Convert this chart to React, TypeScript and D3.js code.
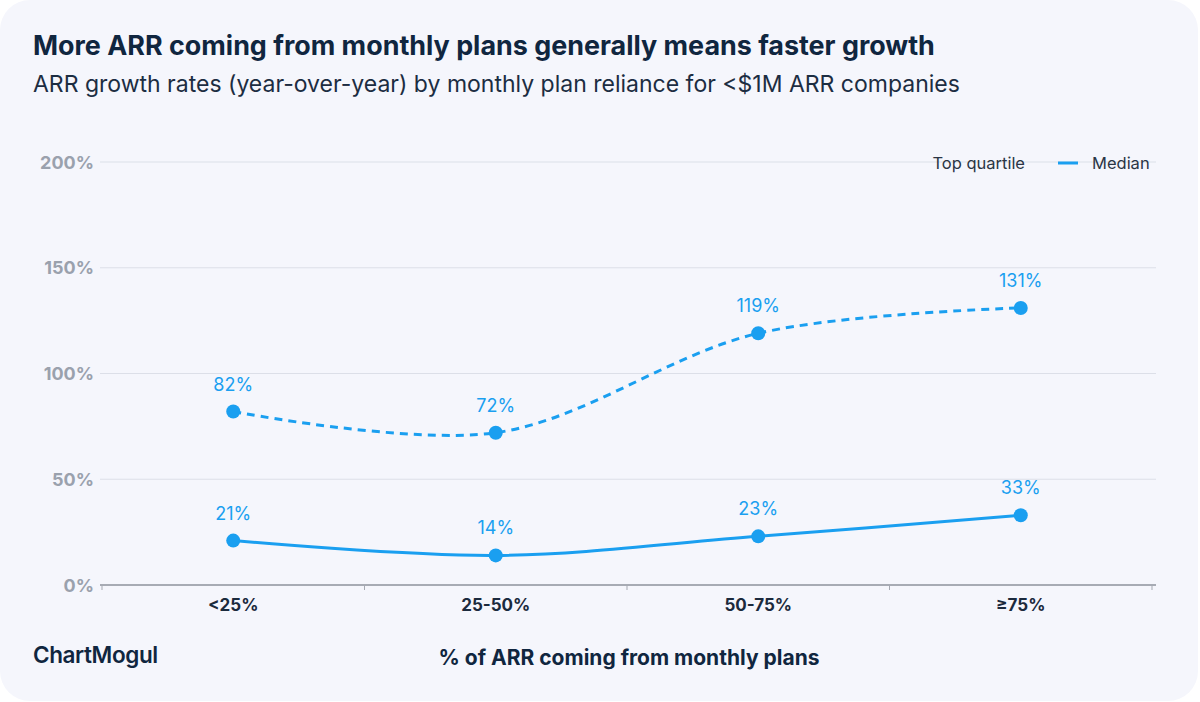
import { useEffect, useRef } from 'react'
import * as d3 from 'd3'

const categories = ['<25%', '25-50%', '50-75%', '≥75%']
const topQuartile = [82, 72, 119, 131]
const median = [21, 14, 23, 33]
const yTicks = [0, 50, 100, 150, 200]

const BLUE = '#1a9ff0'

export default function App() {
  const svgRef = useRef<SVGSVGElement>(null)

  useEffect(() => {
    if (!svgRef.current) return
    const W = 1200
    const H = 702
    const svg = d3.select(svgRef.current)
    svg.selectAll('*').remove()
    svg.attr('width', W).attr('height', H)

    const font = 'Inter, "Noto Sans", sans-serif'

    // card
    svg.append('rect').attr('width', W).attr('height', H).attr('fill', '#ffffff')
    svg.append('rect')
      .attr('x', 0).attr('y', 0)
      .attr('width', W - 2).attr('height', H - 1)
      .attr('rx', 30)
      .attr('fill', '#f5f6fc')

    svg.append('text')
      .attr('x', 33).attr('y', 55)
      .attr('font-family', font).attr('font-size', 26.9).attr('font-weight', 700)
      .attr('fill', '#10263f')
      .text('More ARR coming from monthly plans generally means faster growth')

    svg.append('text')
      .attr('x', 33).attr('y', 92)
      .attr('font-family', font).attr('font-size', 23).attr('font-weight', 400)
      .attr('fill', '#1c2d42')
      .text('ARR growth rates (year-over-year) by monthly plan reliance for <$1M ARR companies')

    const x = d3.scaleBand().domain(categories).range([102, 1152])
    const y = d3.scaleLinear().domain([0, 200]).range([585, 162])
    const cx = (c: string) => (x(c) ?? 0) + x.bandwidth() / 2

    // grid
    const grid = svg.append('g')
    grid.selectAll('line')
      .data(yTicks.filter(t => t > 0))
      .enter().append('line')
      .attr('x1', 100).attr('x2', 1156)
      .attr('y1', d => y(d)).attr('y2', d => y(d))
      .attr('stroke', '#dcdfe8').attr('stroke-width', 1.2)

    // y labels
    svg.append('g').selectAll('text')
      .data(yTicks)
      .enter().append('text')
      .attr('x', 94).attr('y', d => y(d) + 6.5)
      .attr('text-anchor', 'end')
      .attr('font-family', font).attr('font-size', 18).attr('font-weight', 700)
      .attr('fill', '#9aa1ad')
      .text(d => `${d}%`)

    // x axis line + ticks
    svg.append('line')
      .attr('x1', 100).attr('x2', 1156)
      .attr('y1', 585).attr('y2', 585)
      .attr('stroke', '#8d929c').attr('stroke-width', 1.6)
    const bounds = [...categories.map(c => x(c) ?? 0), 1152]
    svg.append('g').selectAll('line')
      .data(bounds)
      .enter().append('line')
      .attr('x1', d => d).attr('x2', d => d)
      .attr('y1', 585).attr('y2', 590)
      .attr('stroke', '#a5a9b2').attr('stroke-width', 1)

    svg.append('g').selectAll('text')
      .data(categories)
      .enter().append('text')
      .attr('x', d => cx(d)).attr('y', 611)
      .attr('text-anchor', 'middle')
      .attr('font-family', font).attr('font-size', 17).attr('font-weight', 700)
      .attr('fill', '#1b2a3d')
      .text(d => d)

    svg.append('text')
      .attr('x', 629).attr('y', 665)
      .attr('text-anchor', 'middle')
      .attr('font-family', font).attr('font-size', 21).attr('font-weight', 700)
      .attr('fill', '#10263f')
      .text('% of ARR coming from monthly plans')

    svg.append('text')
      .attr('x', 33).attr('y', 663)
      .attr('font-family', 'Inter, sans-serif').attr('font-size', 22.5).attr('font-weight', 600)
      .attr('fill', '#10263f')
      .attr('letter-spacing', -0.4)
      .text('ChartMogul')

    // series
    const line = d3.line<number>()
      .x((_d, i) => cx(categories[i]))
      .y(d => y(d))
      .curve(d3.curveCatmullRom.alpha(0.5))

    const series = [
      { values: topQuartile, dash: '8,6' },
      { values: median, dash: null as string | null },
    ]

    series.forEach(s => {
      svg.append('path')
        .datum(s.values)
        .attr('d', line)
        .attr('fill', 'none')
        .attr('stroke', BLUE)
        .attr('stroke-width', 3)
        .attr('stroke-dasharray', s.dash)

      svg.append('g').selectAll('circle')
        .data(s.values)
        .enter().append('circle')
        .attr('cx', (_d, i) => cx(categories[i]))
        .attr('cy', d => y(d))
        .attr('r', 7)
        .attr('fill', BLUE)

      svg.append('g').selectAll('text')
        .data(s.values)
        .enter().append('text')
        .attr('x', (_d, i) => cx(categories[i]))
        .attr('y', d => y(d) - 21)
        .attr('text-anchor', 'middle')
        .attr('font-family', font).attr('font-size', 18)
        .attr('fill', BLUE)
        .text(d => `${d}%`)
    })

    // legend
    const lg = svg.append('g').attr('font-family', font).attr('font-size', 16.5).attr('fill', '#2a3545')
    lg.append('text').attr('x', 1025).attr('y', 169).attr('text-anchor', 'end').text('Top quartile')
    lg.append('line')
      .attr('x1', 1058).attr('x2', 1078).attr('y1', 163).attr('y2', 163)
      .attr('stroke', BLUE).attr('stroke-width', 3)
    lg.append('text').attr('x', 1092).attr('y', 169).text('Median')
  }, [])

  return (
    <svg ref={svgRef} style={{ position: 'absolute', left: 0, top: 0, display: 'block' }}></svg>
  )
}
